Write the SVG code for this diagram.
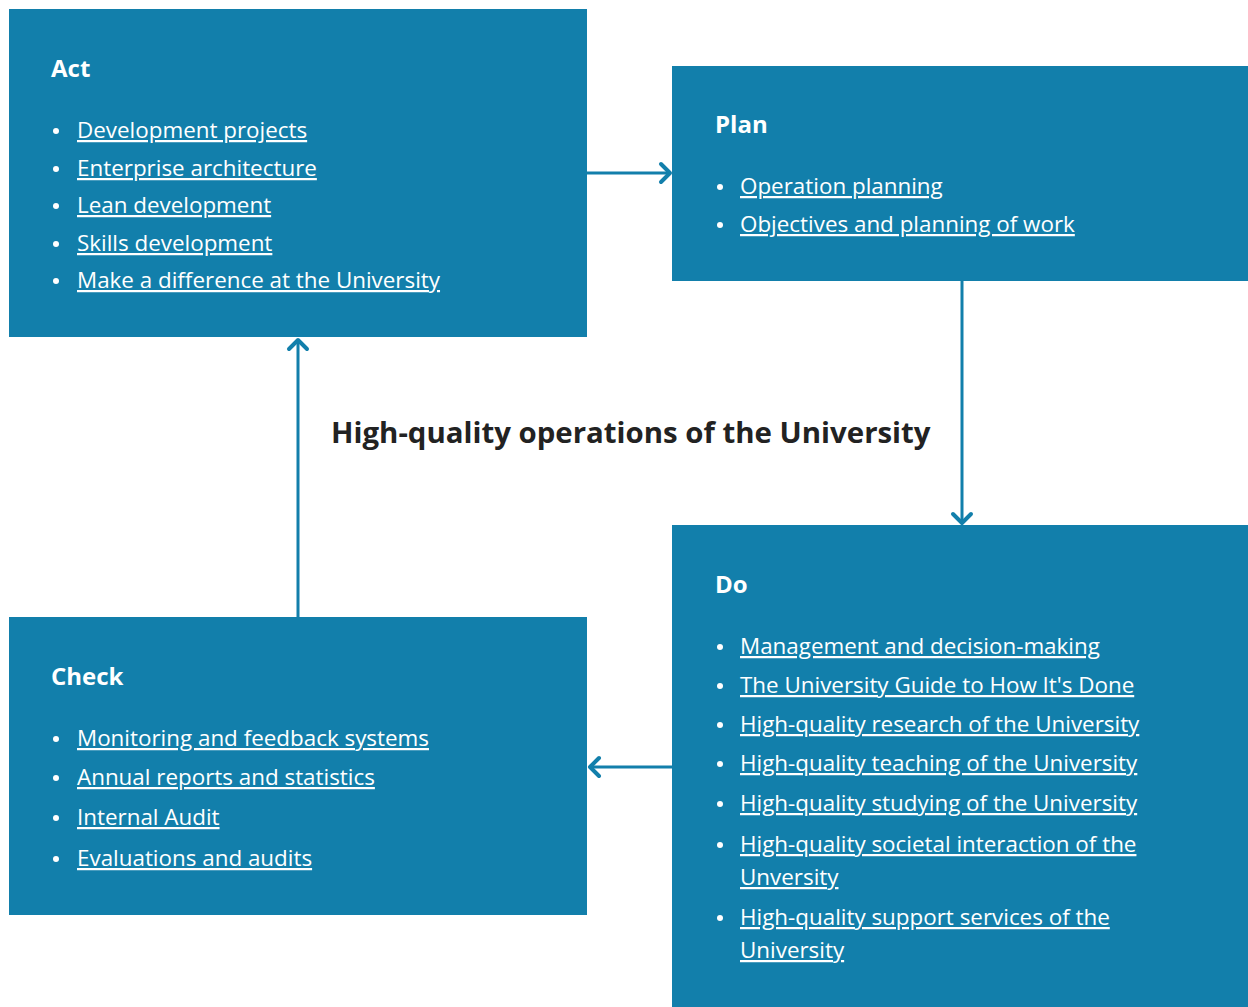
<svg xmlns="http://www.w3.org/2000/svg" width="1248" height="1007" viewBox="0 0 1248 1007">
<defs>
<style>
.box{fill:#127fab}
.ttl{font-family:"Open Sans","Liberation Sans",sans-serif;font-weight:bold;font-size:24px;fill:#fff}
.item{font-family:"Open Sans","Liberation Sans",sans-serif;font-size:22.4px;fill:#fff;text-decoration:underline}
.dot{fill:#fff}
.conn{stroke:#127fab;stroke-width:3;fill:none}
.head{stroke:#127fab;stroke-width:4;fill:none;stroke-linecap:round;stroke-linejoin:round}
.main{font-family:"Open Sans","Liberation Sans",sans-serif;font-weight:bold;font-size:29.4px;fill:#222}
</style>
</defs>
<rect width="1248" height="1007" fill="#fff"/>
<g id="connectors">
<line class="conn" x1="587" y1="173" x2="670" y2="173"/>
<polyline class="head" points="661,164 670,173 661,182"/>
<line class="conn" x1="962" y1="281" x2="962" y2="523"/>
<polyline class="head" points="953,514 962,523 971,514"/>
<line class="conn" x1="672" y1="767" x2="590" y2="767"/>
<polyline class="head" points="599,758 590,767 599,776"/>
<line class="conn" x1="298" y1="617" x2="298" y2="340"/>
<polyline class="head" points="289,349 298,340 307,349"/>
</g>
<g id="act">
<rect class="box" x="9" y="9" width="578" height="328"/>
<text class="ttl" x="51" y="77">Act</text>
<circle class="dot" cx="56" cy="131" r="3"/><text class="item" x="77" y="138">Development projects</text>
<circle class="dot" cx="56" cy="169" r="3"/><text class="item" x="77" y="176">Enterprise architecture</text>
<circle class="dot" cx="56" cy="206" r="3"/><text class="item" x="77" y="213">Lean development</text>
<circle class="dot" cx="56" cy="244" r="3"/><text class="item" x="77" y="251">Skills development</text>
<circle class="dot" cx="56" cy="281" r="3"/><text class="item" x="77" y="288">Make a difference at the University</text>
</g>
<g id="plan">
<rect class="box" x="672" y="66" width="576" height="215"/>
<text class="ttl" x="715" y="133">Plan</text>
<circle class="dot" cx="720" cy="187" r="3"/><text class="item" x="740" y="194">Operation planning</text>
<circle class="dot" cx="720" cy="225" r="3"/><text class="item" x="740" y="232">Objectives and planning of work</text>
</g>
<g id="do">
<rect class="box" x="672" y="525" width="576" height="482"/>
<text class="ttl" x="715" y="593">Do</text>
<circle class="dot" cx="720" cy="647" r="3"/><text class="item" x="740" y="654">Management and decision-making</text>
<circle class="dot" cx="720" cy="686" r="3"/><text class="item" x="740" y="693">The University Guide to How It's Done</text>
<circle class="dot" cx="720" cy="725" r="3"/><text class="item" x="740" y="732">High-quality research of the University</text>
<circle class="dot" cx="720" cy="764" r="3"/><text class="item" x="740" y="771">High-quality teaching of the University</text>
<circle class="dot" cx="720" cy="804" r="3"/><text class="item" x="740" y="811">High-quality studying of the University</text>
<circle class="dot" cx="720" cy="845" r="3"/><text class="item" x="740" y="852">High-quality societal interaction of the</text>
<text class="item" x="740" y="885">Unversity</text>
<circle class="dot" cx="720" cy="918" r="3"/><text class="item" x="740" y="925">High-quality support services of the</text>
<text class="item" x="740" y="958">University</text>
</g>
<g id="check">
<rect class="box" x="9" y="617" width="578" height="298"/>
<text class="ttl" x="51" y="685">Check</text>
<circle class="dot" cx="56" cy="739" r="3"/><text class="item" x="77" y="746">Monitoring and feedback systems</text>
<circle class="dot" cx="56" cy="778" r="3"/><text class="item" x="77" y="785">Annual reports and statistics</text>
<circle class="dot" cx="56" cy="818" r="3"/><text class="item" x="77" y="825">Internal Audit</text>
<circle class="dot" cx="56" cy="859" r="3"/><text class="item" x="77" y="866">Evaluations and audits</text>
</g>
<g id="center">
<text class="main" x="331" y="443">High-quality operations of the University</text>
</g>
</svg>
